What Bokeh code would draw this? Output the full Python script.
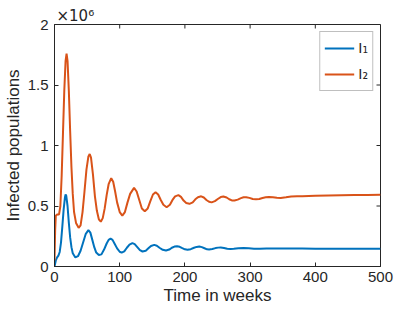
import math
from bokeh.plotting import figure
from bokeh.models import Range1d, FixedTicker, Legend, LegendItem, ColumnDataSource
from bokeh.embed import file_html
from bokeh.resources import INLINE

# Time in weeks / infected populations (units of 1e6)
t2 = [0, 1, 2, 4, 7, 9, 11, 13, 15, 17, 18.5, 20, 22, 24, 26, 28, 30, 33, 37, 40, 43, 46, 49, 52, 54,
      56, 59, 62, 65, 68, 71, 74, 77, 80, 83, 87, 90, 93, 96, 100, 104, 108, 112, 116, 122, 126, 130,
      134, 138.5, 143, 147, 151, 155, 159, 163, 167, 172, 177, 181, 185, 190, 194, 198, 202, 207, 212,
      216, 220, 225, 229, 233, 237, 241, 246, 251, 255, 259, 264, 268, 272, 276, 281, 286, 290, 294,
      299, 304, 309, 314, 319, 324, 329, 335, 341, 347, 355, 363, 372, 380, 390, 400, 420, 440, 460,
      480, 500]
I2 = [0.05, 0.30, 0.42, 0.43, 0.43, 0.50, 0.75, 1.10, 1.45, 1.70, 1.76, 1.70, 1.45, 1.12, 0.82, 0.60,
      0.45, 0.36, 0.32, 0.34, 0.45, 0.62, 0.80, 0.91, 0.93, 0.90, 0.76, 0.58, 0.46, 0.39, 0.37, 0.40,
      0.48, 0.59, 0.68, 0.73, 0.70, 0.62, 0.53, 0.45, 0.42, 0.45, 0.53, 0.60, 0.65, 0.62, 0.55, 0.48,
      0.457, 0.48, 0.54, 0.595, 0.614, 0.595, 0.55, 0.51, 0.49, 0.51, 0.55, 0.58, 0.59, 0.575, 0.545,
      0.525, 0.518, 0.53, 0.555, 0.573, 0.58, 0.57, 0.55, 0.535, 0.53, 0.54, 0.56, 0.574, 0.578, 0.57,
      0.556, 0.546, 0.545, 0.553, 0.565, 0.572, 0.573, 0.567, 0.558, 0.555, 0.558, 0.566, 0.572, 0.575,
      0.572, 0.568, 0.567, 0.572, 0.578, 0.580, 0.580, 0.583, 0.585, 0.587, 0.589, 0.590, 0.591, 0.592]

t1 = [0, 1, 2, 4, 6, 8, 10, 12, 14, 16, 17, 18, 20, 22, 24, 26, 28, 32, 36, 40, 44, 48, 52, 55, 58,
      61, 64, 68, 72, 76, 80, 83, 86, 89, 92, 96, 100, 103, 107, 111, 115, 119.5, 123, 127, 131, 135,
      140, 144, 148, 153, 157, 161, 166, 171, 176, 180, 184, 188, 192, 196, 200, 204, 209, 214, 218,
      222, 226, 230, 234, 237, 242, 247, 251, 255, 260, 265, 270, 275, 282, 290, 298, 306, 315, 325,
      340, 360, 380, 400, 440, 500]
I1 = [0.0, 0.025, 0.05, 0.075, 0.09, 0.12, 0.20, 0.33, 0.47, 0.57, 0.595, 0.585, 0.50, 0.36, 0.24,
      0.16, 0.11, 0.075, 0.085, 0.13, 0.20, 0.27, 0.30, 0.28, 0.22, 0.16, 0.115, 0.095, 0.10, 0.14,
      0.19, 0.22, 0.23, 0.22, 0.19, 0.15, 0.122, 0.115, 0.125, 0.155, 0.18, 0.193, 0.185, 0.16, 0.135,
      0.124, 0.13, 0.15, 0.17, 0.179, 0.172, 0.155, 0.138, 0.132, 0.14, 0.155, 0.165, 0.168, 0.163,
      0.152, 0.142, 0.138, 0.143, 0.155, 0.162, 0.165, 0.16, 0.151, 0.142, 0.14, 0.145, 0.152, 0.156,
      0.157, 0.153, 0.147, 0.144, 0.146, 0.150, 0.152, 0.150, 0.147, 0.147, 0.149, 0.149, 0.148, 0.148,
      0.147, 0.147, 0.146]

x_ticks = [0, 100, 200, 300, 400, 500]
y_ticks = [0, 0.5, 1, 1.5, 2]
y_tick_labels = {0: "0", 0.5: "0.5", 1: "1", 1.5: "1.5", 2: "2"}
series_names = ["I\u2081", "I\u2082"]
exponent_text = "\u00d710\u2076"

FONT = "Liberation Sans"
AX = "#262626"
BLUE = "#0072BD"
ORANGE = "#D95319"

p = figure(width=404, height=307, x_range=Range1d(0, 500), y_range=Range1d(0, 2),
           output_backend="svg", toolbar_location=None,
           min_border_left=46, min_border_right=24, min_border_top=24, min_border_bottom=41)
p.background_fill_color = "white"
p.border_fill_color = "white"
p.grid.visible = False
p.outline_line_color = AX
p.outline_line_width = 1

# exponent shown as a left-aligned title just above the frame
p.title.text = exponent_text
p.title.align = "left"
p.title.offset = 2
p.title.standoff = 0
p.title.text_font = "DejaVu Sans"
p.title.text_font_size = "15px"
p.title.text_font_style = "normal"
p.title.text_color = AX

src1 = ColumnDataSource(dict(t=t1, v=I1))
src2 = ColumnDataSource(dict(t=t2, v=I2))
r1 = p.line("t", "v", source=src1, line_color=BLUE, line_width=2)
r2 = p.line("t", "v", source=src2, line_color=ORANGE, line_width=2)

for ax in p.xaxis:
    ax.ticker = FixedTicker(ticks=x_ticks)
    ax.axis_label = "Time in weeks"
for ax in p.yaxis:
    ax.ticker = FixedTicker(ticks=y_ticks)
    ax.major_label_overrides = y_tick_labels
    ax.axis_label = "Infected populations"

for ax in list(p.xaxis) + list(p.yaxis):
    ax.axis_line_color = AX
    ax.major_tick_in = 4
    ax.major_tick_out = 0
    ax.minor_tick_line_color = None
    ax.major_tick_line_color = AX
    ax.major_label_text_font = FONT
    ax.major_label_text_font_size = "15px"
    ax.major_label_text_color = AX
    ax.axis_label_text_font = FONT
    ax.axis_label_text_font_size = "17px"
    ax.axis_label_text_font_style = "normal"
    ax.axis_label_text_color = AX

p.xaxis.major_label_standoff = 5
p.xaxis.axis_label_standoff = 1
p.yaxis.major_label_standoff = 6
p.yaxis.axis_label_standoff = 2

# box-style inward ticks on the top and right edges, placed from the tick lists
p.ray(x=x_ticks, y=[2] * len(x_ticks), length=4, length_units="screen",
      angle=-math.pi / 2, line_color=AX, line_width=1)
p.ray(x=[500] * len(y_ticks), y=y_ticks, length=4, length_units="screen",
      angle=math.pi, line_color=AX, line_width=1)

legend = Legend(items=[LegendItem(label=series_names[0], renderers=[r1]),
                       LegendItem(label=series_names[1], renderers=[r2])],
                location="top_right", margin=7, padding=4, spacing=2,
                glyph_width=30, glyph_height=24, label_standoff=4, label_width=8,
                label_text_font="DejaVu Sans", label_text_font_size="14px", label_text_color=AX,
                border_line_color="#7f7f7f", border_line_width=1,
                background_fill_color="white", background_fill_alpha=1)
p.add_layout(legend)

open("out.html", "w").write(file_html(p, INLINE))
